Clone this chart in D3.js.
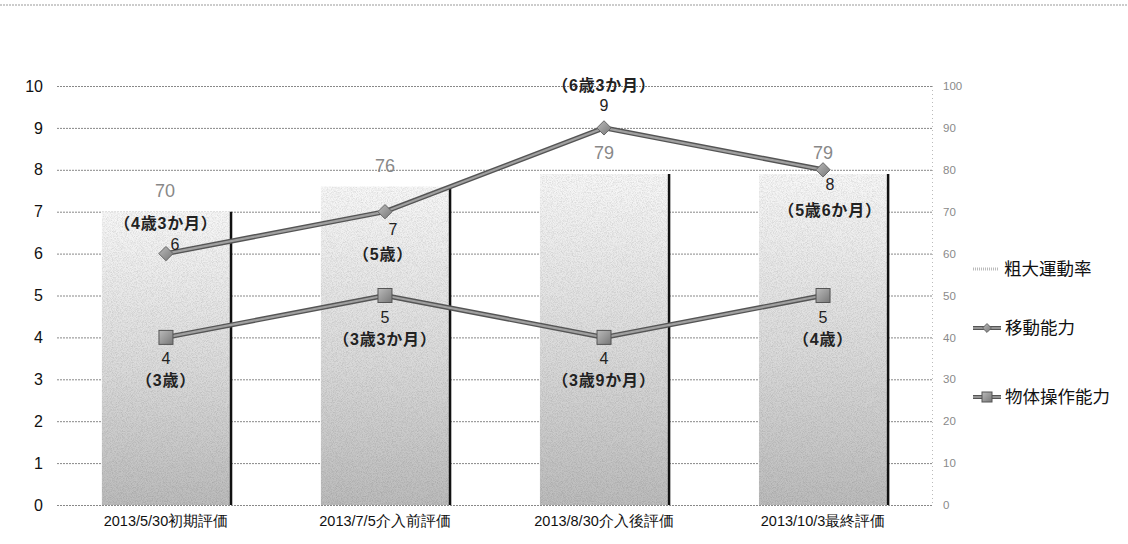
<!DOCTYPE html>
<html><head><meta charset="utf-8">
<script src="https://cdn.jsdelivr.net/npm/d3@7"></script>
<style>
body{margin:0;background:#fff;}
svg{display:block;font-family:"Liberation Sans","Noto Sans CJK JP",sans-serif;}
</style></head>
<body><svg id="c" width="1128" height="544"></svg>
<script>
// evaluation dates
const categories = ["2013/5/30初期評価","2013/7/5介入前評価","2013/8/30介入後評価","2013/10/3最終評価"];
// 粗大運動率 (right axis, %)
const grossRate = [70, 76, 79, 79];
// 移動能力 (left axis)
const locomotion = [6, 7, 9, 8];
const locomotionAge = ["（4歳3か月）","（5歳）","（6歳3か月）","（5歳6か月）"];
// 物体操作能力 (left axis)
const objectControl = [4, 5, 4, 5];
const objectAge = ["（3歳）","（3歳3か月）","（3歳9か月）","（4歳）"];
const leftTicks = [0,1,2,3,4,5,6,7,8,9,10];
const rightTicks = [0,10,20,30,40,50,60,70,80,90,100];
const seriesNames = ["粗大運動率","移動能力","物体操作能力"];

const svg = d3.select("#c");
const plotLeft = 57, plotRight = 932, plotTop = 86, plotBottom = 505;

const x = d3.scaleBand().domain(categories).range([plotLeft, plotRight]).paddingInner(0.415).paddingOuter(0.205);
const yL = d3.scaleLinear().domain([0,10]).range([plotBottom, plotTop]);
const yR = d3.scaleLinear().domain([0,100]).range([plotBottom, plotTop]);

const defs = svg.append("defs");
const grad = defs.append("linearGradient").attr("id","barGrad").attr("x1",0).attr("y1",0).attr("x2",0).attr("y2",1);
grad.append("stop").attr("offset","0%").attr("stop-color","#f8f8f8");
grad.append("stop").attr("offset","55%").attr("stop-color","#dadada");
grad.append("stop").attr("offset","100%").attr("stop-color","#bcbcbc");
const f = defs.append("filter").attr("id","grain").attr("x",0).attr("y",0).attr("width",1).attr("height",1);
f.append("feTurbulence").attr("type","fractalNoise").attr("baseFrequency",1.2).attr("numOctaves",1).attr("seed",3).attr("result","n");
f.append("feColorMatrix").attr("in","n").attr("type","matrix")
  .attr("values","0 0 0 0 0  0 0 0 0 0  0 0 0 0 0  0 0 0 -1.6 1.0").attr("result","a");
f.append("feComposite").attr("in","a").attr("in2","SourceGraphic").attr("operator","in").attr("result","dots");
f.append("feColorMatrix").attr("in","dots").attr("type","matrix")
  .attr("values","0 0 0 0 0  0 0 0 0 0  0 0 0 0 0  0 0 0 0.35 0").attr("result","d2");
f.append("feMerge").selectAll("feMergeNode").data(["SourceGraphic","d2"]).join("feMergeNode").attr("in",d=>d);

const mg = defs.append("linearGradient").attr("id","mk").attr("x1",0).attr("y1",0).attr("x2",1).attr("y2",1);
mg.append("stop").attr("offset","0%").attr("stop-color","#bbb");
mg.append("stop").attr("offset","100%").attr("stop-color","#777");

// top border line
svg.append("line").attr("x1",0).attr("x2",1128).attr("y1",5).attr("y2",5)
  .attr("stroke","#999").attr("stroke-dasharray","2,1").attr("stroke-width",1);

// gridlines
svg.append("g").selectAll("line").data(leftTicks).join("line")
  .attr("x1",plotLeft).attr("x2",plotRight).attr("y1",d=>yL(d)+0.5).attr("y2",d=>yL(d)+0.5)
  .attr("stroke","#888").attr("stroke-dasharray","2,1").attr("stroke-width",1);

// right axis line
svg.append("line").attr("x1",plotRight+0.5).attr("x2",plotRight+0.5).attr("y1",plotTop).attr("y2",plotBottom)
  .attr("stroke","#bbb").attr("stroke-dasharray","1,3");

// bars
const bars = svg.append("g");
bars.selectAll("rect").data(grossRate).join("rect")
  .attr("x",(d,i)=>x(categories[i])).attr("y",d=>yR(d))
  .attr("width",x.bandwidth()).attr("height",d=>plotBottom-yR(d))
  .attr("fill","url(#barGrad)").attr("filter","url(#grain)");
bars.selectAll("line").data(grossRate).join("line")
  .attr("x1",(d,i)=>x(categories[i])+x.bandwidth()+1).attr("x2",(d,i)=>x(categories[i])+x.bandwidth()+1)
  .attr("y1",d=>yR(d)).attr("y2",plotBottom).attr("stroke","#111").attr("stroke-width",2.5);

// left axis
const axL = d3.axisLeft(yL).tickValues(leftTicks).tickSize(0).tickPadding(14);
svg.append("g").attr("transform",`translate(${plotLeft},0)`).call(axL)
  .call(g=>g.select(".domain").remove())
  .selectAll("text").attr("font-size",16).attr("fill","#111");

// right axis
const axR = d3.axisRight(yR).tickValues(rightTicks).tickSize(0).tickPadding(11);
svg.append("g").attr("transform",`translate(${plotRight},0)`).call(axR)
  .call(g=>g.select(".domain").remove())
  .selectAll("text").attr("font-size",11.5).attr("fill","#8a8a8a");

// x axis labels
const axX = d3.axisBottom(x).tickSize(0).tickPadding(11);
svg.append("g").attr("transform",`translate(0,${plotBottom})`).call(axX)
  .call(g=>g.select(".domain").remove())
  .selectAll("text").attr("font-size",14.5).attr("fill","#111");

const cx = i => x(categories[i]) + x.bandwidth()/2;

// line series
const lineL = d3.line().x((d,i)=>cx(i)).y(d=>yL(d));
function drawLine(vals){
  svg.append("path").datum(vals).attr("d",lineL).attr("fill","none").attr("stroke","#555").attr("stroke-width",5);
  svg.append("path").datum(vals).attr("d",lineL).attr("fill","none").attr("stroke","#a0a0a0").attr("stroke-width",2.2);
}
drawLine(locomotion);
drawLine(objectControl);

// diamonds
svg.append("g").selectAll("path").data(locomotion).join("path")
  .attr("d",d3.symbol().type(d3.symbolDiamond2).size(130))
  .attr("transform",(d,i)=>`translate(${cx(i)},${yL(d)})`)
  .attr("fill","url(#mk)").attr("stroke","#666").attr("stroke-width",1);
// squares
svg.append("g").selectAll("rect").data(objectControl).join("rect")
  .attr("x",(d,i)=>cx(i)-7).attr("y",d=>yL(d)-7).attr("width",14).attr("height",14)
  .attr("fill","url(#mk)").attr("stroke","#555").attr("stroke-width",1);

// value labels
const lab = svg.append("g").attr("text-anchor","middle");
lab.selectAll(".br").data(grossRate).join("text").attr("class","br")
  .attr("x",(d,i)=>cx(i)+(i===0?-1:0)).attr("y",d=>yR(d)-15)
  .attr("font-size",18).attr("fill","#888").text(d=>d);

// 移動能力 label placement: [value dx, value dy, age dx, age dy]
const locPlace = [[9,-4,0,-25],[8,23,-2,48],[0,-17,0,-37],[7,20,7,46]];
locomotion.forEach((v,i)=>{
  const px = cx(i), py = yL(v), p = locPlace[i];
  lab.append("text").attr("x",px+p[0]).attr("y",py+p[1]).attr("font-size",16).attr("fill","#222").text(v);
  lab.append("text").attr("x",px+p[2]).attr("y",py+p[3]).attr("font-size",16).attr("letter-spacing",0.8).attr("font-weight","bold").attr("fill","#222").text(locomotionAge[i]);
});
objectControl.forEach((v,i)=>{
  const px = cx(i), py = yL(v);
  lab.append("text").attr("x",px).attr("y",py+27).attr("font-size",16).attr("fill","#222").text(v);
  lab.append("text").attr("x",px).attr("y",py+49).attr("font-size",16).attr("letter-spacing",0.8).attr("font-weight","bold").attr("fill","#222").text(objectAge[i]);
});

// legend
const lg = svg.append("g").attr("transform","translate(973,0)");
const ly = [269, 328, 397];
lg.append("line").attr("x1",0).attr("x2",26).attr("y1",ly[0]).attr("y2",ly[0]).attr("stroke","#bbb").attr("stroke-width",3).attr("stroke-dasharray","1,1");
[1,2].forEach(k=>{
  lg.append("line").attr("x1",0).attr("x2",28).attr("y1",ly[k]).attr("y2",ly[k]).attr("stroke","#555").attr("stroke-width",4);
  lg.append("line").attr("x1",0).attr("x2",28).attr("y1",ly[k]).attr("y2",ly[k]).attr("stroke","#aaa").attr("stroke-width",1.5);
});
lg.append("path").attr("d",d3.symbol().type(d3.symbolDiamond2).size(50)).attr("transform",`translate(14,${ly[1]})`).attr("fill","url(#mk)").attr("stroke","#666");
lg.append("rect").attr("x",9).attr("y",ly[2]-5).attr("width",10).attr("height",10).attr("fill","url(#mk)").attr("stroke","#555");
lg.selectAll("text").data(seriesNames).join("text")
  .attr("x",(d,i)=>i===0?31:32).attr("y",(d,i)=>ly[i]+6).attr("font-size",17.5).attr("fill","#111").text(d=>d);
</script></body></html>
